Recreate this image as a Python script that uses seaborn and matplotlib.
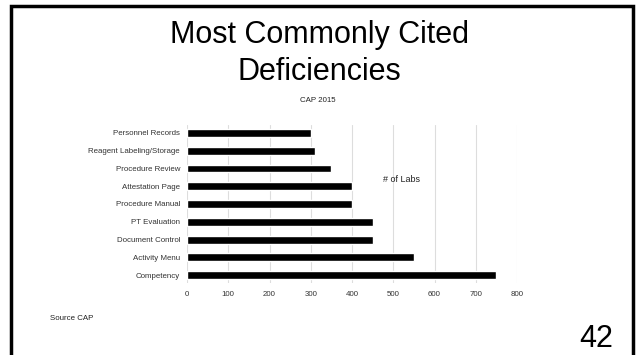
import matplotlib
matplotlib.use("Agg")
import matplotlib.pyplot as plt
import seaborn as sns
import pandas as pd
from matplotlib.patches import Rectangle

# Data
categories = ['Personnel Records', 'Reagent Labeling/Storage', 'Procedure Review',
              'Attestation Page', 'Procedure Manual', 'PT Evaluation',
              'Document Control', 'Activity Menu', 'Competency']
num_labs = [300, 310, 350, 400, 400, 450, 450, 550, 750]
x_ticks = [0, 100, 200, 300, 400, 500, 600, 700, 800]

df = pd.DataFrame({'Deficiency': categories, 'Labs': num_labs})

sns.set_theme(style='white')
plt.rcParams['font.family'] = ['Liberation Sans', 'DejaVu Sans']

W, H = 639, 355
fig = plt.figure(figsize=(W / 100, H / 100), dpi=100)
fig.patch.set_facecolor('white')

# slide frame (bottom edge runs off the picture)
fig.add_artist(Rectangle((11 / W, -10 / H), 622 / W, (H - 6 + 10) / H,
                         transform=fig.transFigure, fill=False,
                         edgecolor='black', linewidth=2.5))

ax = fig.add_axes([187 / W, 1 - 283 / H, 330 / W, 158 / H])
sns.barplot(data=df, x='Labs', y='Deficiency', orient='h', color='black',
            width=0.45, saturation=1, ax=ax)

ax.set_xlim(0, 800)
ax.set_ylim(len(categories) - 0.55, -0.45)
ax.set_xticks(x_ticks)
ax.set_xticklabels([str(t) for t in x_ticks])
ax.xaxis.grid(True, color='#dddddd', linewidth=0.8)
ax.set_axisbelow(True)
for s in ax.spines.values():
    s.set_visible(False)
ax.tick_params(axis='both', length=0, labelsize=5.7, labelcolor='#333333')
ax.tick_params(axis='x', pad=6)
ax.tick_params(axis='y', pad=5)
ax.set_xlabel('')
ax.set_ylabel('')

ax.text(475, 2.6, '# of Labs', fontsize=6.5, color='#222222', va='center', ha='left')

# slide text
fig.text(0.5, 1 - 43 / H, 'Most Commonly Cited', ha='center', va='baseline',
         fontsize=22, color='black')
fig.text(0.5, 1 - 80 / H, 'Deficiencies', ha='center', va='baseline',
         fontsize=22, color='black')
fig.text(318 / W, 1 - 100 / H, 'CAP 2015', ha='center', va='center', fontsize=5.7, color='#222222')
fig.text(50 / W, 1 - 319 / H, 'Source CAP', ha='left', va='center', fontsize=5.7, color='#222222')
fig.text(613 / W, 1 - 347 / H, '42', ha='right', va='baseline', fontsize=22, color='black')

fig.savefig('out.png', dpi=100)
